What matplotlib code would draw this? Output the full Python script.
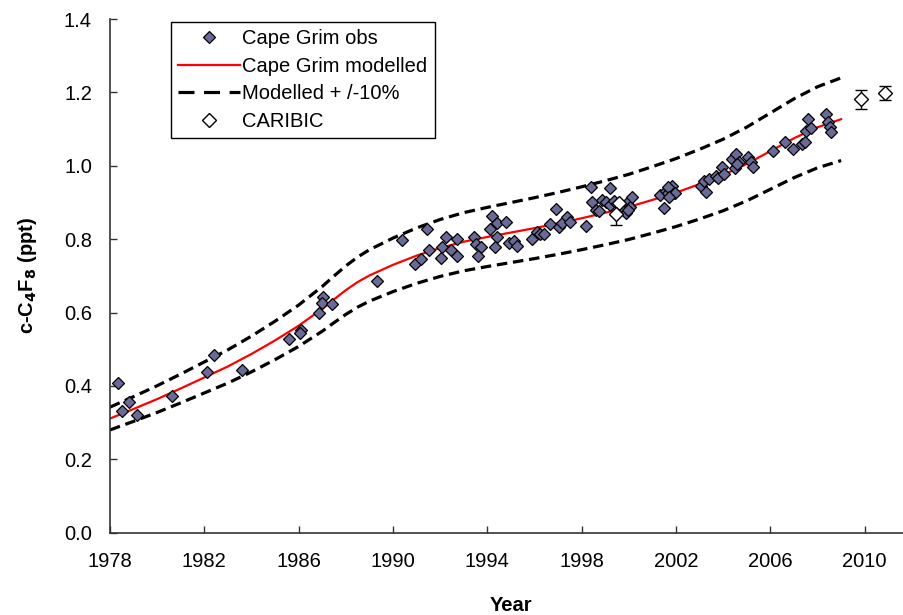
import numpy as np
import matplotlib.pyplot as plt
from matplotlib.lines import Line2D

plt.rcParams['font.family'] = ['Liberation Sans', 'DejaVu Sans']

# modelled Cape Grim curve (ppt)
model_year = [1978, 1979, 1980, 1981, 1982, 1983, 1984, 1985, 1986, 1987,
              1987.5, 1988, 1988.5, 1989, 1990, 1991, 1992, 1993, 1994, 1995,
              1996, 1997, 1998, 1999, 2000, 2001, 2002, 2003, 2004, 2005,
              2006, 2007, 2008, 2009]
model_val = [0.311, 0.337, 0.364, 0.393, 0.423, 0.453, 0.487, 0.524, 0.564, 0.610,
             0.636, 0.661, 0.683, 0.701, 0.730, 0.755, 0.776, 0.793, 0.806, 0.818,
             0.830, 0.843, 0.857, 0.872, 0.888, 0.907, 0.927, 0.950, 0.975, 1.005,
             1.040, 1.075, 1.105, 1.127]
band = 0.10

# Cape Grim observations
obs_year = [1978.33, 1978.49, 1978.82, 1979.13, 1980.64, 1982.12, 1982.41, 1983.58,
            1985.58, 1986.08, 1986.05, 1986.86, 1987.03, 1987.00, 1987.41, 1989.30,
            1990.39, 1991.46, 1990.95, 1991.20, 1991.51, 1992.02, 1992.09, 1992.26,
            1992.47, 1992.71, 1992.73, 1993.42, 1993.50, 1993.71, 1993.61, 1994.13,
            1994.20, 1994.41, 1994.77, 1994.41, 1994.31, 1994.92, 1995.12, 1995.27,
            1995.89, 1996.11, 1996.25, 1996.39, 1996.64, 1996.89, 1997.03, 1997.17,
            1997.38, 1997.52, 1998.20, 1998.38, 1998.44, 1998.59, 1998.74, 1998.87,
            1999.04, 1999.21, 1999.21, 1999.36, 1999.68, 1999.86, 1999.92, 2000.03,
            2000.14, 1999.96, 2001.31, 2001.47, 2001.56, 2001.66, 2001.84, 2001.87,
            2001.66, 2001.94, 2001.70, 2003.07, 2003.17, 2003.28, 2003.39, 2003.70,
            2003.80, 2003.96, 2004.03, 2004.38, 2004.55, 2004.65, 2004.48, 2004.58,
            2005.05, 2005.16, 2005.26, 2006.11, 2006.63, 2006.96, 2007.35, 2007.45,
            2007.49, 2007.59, 2007.73, 2008.34, 2008.44, 2008.51, 2008.58]
obs_val = [0.407, 0.332, 0.357, 0.320, 0.372, 0.437, 0.484, 0.443,
           0.527, 0.552, 0.545, 0.598, 0.641, 0.625, 0.622, 0.687,
           0.798, 0.827, 0.731, 0.745, 0.770, 0.748, 0.779, 0.807,
           0.770, 0.755, 0.800, 0.805, 0.787, 0.778, 0.754, 0.827,
           0.863, 0.845, 0.848, 0.807, 0.779, 0.789, 0.796, 0.781,
           0.800, 0.820, 0.814, 0.814, 0.840, 0.882, 0.834, 0.843,
           0.861, 0.846, 0.836, 0.941, 0.902, 0.879, 0.877, 0.907,
           0.902, 0.939, 0.893, 0.905, 0.884, 0.872, 0.898, 0.889,
           0.916, 0.879, 0.920, 0.884, 0.931, 0.925, 0.945, 0.925,
           0.943, 0.927, 0.916, 0.945, 0.959, 0.929, 0.963, 0.972,
           0.966, 0.996, 0.977, 1.018, 1.031, 1.011, 0.993, 1.005,
           1.025, 1.011, 0.998, 1.041, 1.064, 1.045, 1.060, 1.066,
           1.095, 1.128, 1.104, 1.140, 1.120, 1.107, 1.093]

# CARIBIC aircraft data with error bars
car_year = [1999.60, 1999.44, 2009.85, 2010.88]
car_val = [0.898, 0.869, 1.181, 1.198]
car_err = [0.0, 0.030, 0.026, 0.020]

model_year = np.array(model_year)
model_val = np.array(model_val)

obs_face = '#6a6a98'

fig = plt.figure(figsize=(9.04, 6.15), dpi=100)
ax = fig.add_axes([0.1217, 0.134, 0.887, 0.835])

ax.plot(obs_year, obs_val, linestyle='none', marker='D', markersize=6.5,
        markerfacecolor=obs_face, markeredgecolor='black', markeredgewidth=0.9,
        zorder=3)
ax.plot(model_year, model_val, color='red', linewidth=1.6, zorder=2)
ax.plot(model_year, model_val * (1 + band), color='black', linewidth=2.3,
        dashes=(3.3, 1.8), zorder=2)
ax.plot(model_year, model_val * (1 - band), color='black', linewidth=2.3,
        dashes=(3.3, 1.8), zorder=2)
ax.errorbar(car_year, car_val, yerr=car_err, fmt='D', markersize=7.5,
            markerfacecolor='white', markeredgecolor='black', markeredgewidth=1.0,
            ecolor='black', elinewidth=1.0, capsize=4.5, capthick=1.0, zorder=4)

ax.set_xlim(1978, 2012)
ax.set_ylim(0, 1.4)
ax.set_xticks(np.arange(1978, 2011, 4))
ax.set_yticks(np.arange(0, 1.41, 0.2))
ax.yaxis.set_major_formatter(plt.FormatStrFormatter('%.1f'))

for s in ['top', 'right']:
    ax.spines[s].set_visible(False)
for s in ['left', 'bottom']:
    ax.spines[s].set_color('#333333')
    ax.spines[s].set_linewidth(1.2)

ax.tick_params(axis='both', direction='in', length=5, width=1.0,
               color='#333333', labelsize=14.5)
ax.tick_params(axis='y', pad=13)
ax.tick_params(axis='x', pad=14)

ax.set_xlabel('Year', fontsize=14.5, fontweight='bold', labelpad=18)
ax.set_ylabel('c-C$_\\mathbf{4}$F$_\\mathbf{8}$ (ppt)', fontsize=14.5,
              fontweight='bold', labelpad=18)

handles = [
    Line2D([], [], linestyle='none', marker='D', markersize=6.5,
           markerfacecolor=obs_face, markeredgecolor='black', markeredgewidth=0.9),
    Line2D([], [], color='red', linewidth=1.6),
    Line2D([], [], color='black', linewidth=2.3, dashes=(5, 3)),
    Line2D([], [], linestyle='none', marker='D', markersize=7.5,
           markerfacecolor='white', markeredgecolor='black', markeredgewidth=1.0),
]
labels = ['Cape Grim obs', 'Cape Grim modelled', 'Modelled + /-10%', 'CARIBIC']
leg = ax.legend(handles, labels, loc='upper left', bbox_to_anchor=(0.076, 0.994),
                borderaxespad=0, fontsize=14.5, fancybox=False, framealpha=1,
                edgecolor='black', handlelength=3.1, handletextpad=0.1,
                labelspacing=0.42, borderpad=0.35)
leg.get_frame().set_linewidth(1.0)

fig.savefig('out.png', dpi=100)
